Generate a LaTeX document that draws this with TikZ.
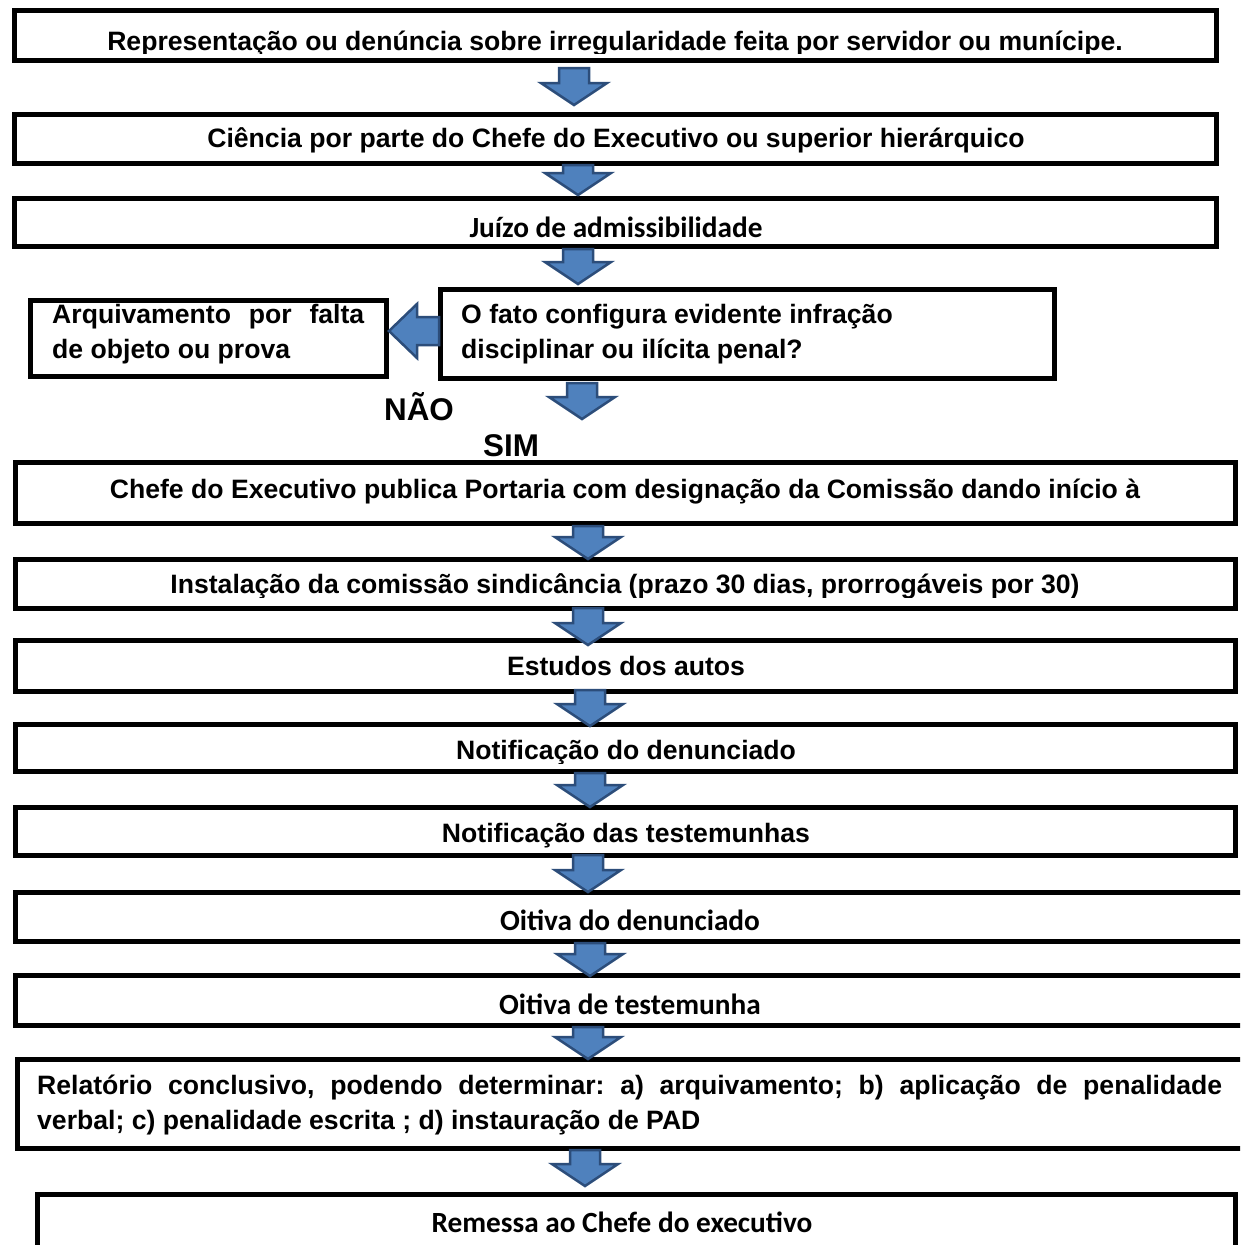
\documentclass[tikz,border=0pt]{standalone}
\usepackage{fontspec}
\setmainfont{Liberation Sans}
\newfontfamily\calib{Carlito}
\frenchspacing
\definecolor{arrfill}{RGB}{79,129,189}
\definecolor{arrline}{RGB}{44,77,122}
\newcommand\darr[4]{% name, x, ytop, ytip
  \coordinate (#1) at (#2,#3);
  \draw[blk] ({#2-15},#3) -- ({#2+15},#3) -- ({#2+15},{#4-22}) -- ({#2+33},{#4-22})
    -- (#2,#4) -- ({#2-33},{#4-22}) -- ({#2-15},{#4-22}) -- cycle;}
\begin{document}
\begin{tikzpicture}[x=1pt,y=-1pt,
  box/.style={draw=black, line width=5pt, fill=white, inner sep=0pt},
  ar/.style={font=\bfseries\fontsize{26.6}{35}\selectfont, inner sep=0pt, anchor=base},
  cb/.style={font=\calib\bfseries\fontsize{29.3}{34}\selectfont, inner sep=0pt, anchor=base},
  big/.style={font=\bfseries\fontsize{31.4}{36}\selectfont, inner sep=0pt, anchor=base},
  blk/.style={fill=arrfill, draw=arrline, line width=2.5pt, line join=miter}]
\clip (0,0) rectangle (1240,1245);
\fill[white] (0,0) rectangle (1240,1245);
% boxes
\node[box, minimum width=1202pt, minimum height=50pt] (b1) at (615,35) {};
\node[box, minimum width=1202pt, minimum height=49pt] (b2) at (615,138.5) {};
\node[box, minimum width=1202pt, minimum height=48pt] (b3) at (615,222) {};
\node[box, minimum width=356pt, minimum height=76pt] (b4) at (208,338) {};
\node[box, minimum width=614pt, minimum height=89pt] (b5) at (747,333.5) {};
\node[box, minimum width=1220pt, minimum height=61pt] (b6) at (625,492.5) {};
\node[box, minimum width=1220pt, minimum height=49pt] (b7) at (625,583.5) {};
\node[box, minimum width=1220pt, minimum height=51pt] (b8) at (625,665.5) {};
\node[box, minimum width=1220pt, minimum height=47pt] (b9) at (625,747.5) {};
\node[box, minimum width=1220pt, minimum height=48pt] (b10) at (625,831) {};
\node[box, minimum width=1240pt, minimum height=49pt] (b11) at (635,916.5) {};
\node[box, minimum width=1240pt, minimum height=50pt] (b12) at (635,1000) {};
\node[box, minimum width=1240pt, minimum height=89pt] (b13) at (637,1103.5) {};
\node[box, minimum width=1198pt, minimum height=66pt] (b14) at (636,1227) {};
% texts
\begin{scope}
  \clip (0,0) rectangle (1240,53);
  \node[ar] (t1) at (615,50) {Representação ou denúncia sobre irregularidade feita por servidor ou munícipe.};
\end{scope}
\node[ar] (t2) at (616,147) {Ciência por parte do Chefe do Executivo ou superior hierárquico};
\node[cb] (t3) at (616,237) {Juízo de admissibilidade};
\node[ar, anchor=north west, align=left] (t4) at (52,303.6) {\makebox[312pt][s]{Arquivamento por falta}\\de objeto ou prova};
\node[ar, anchor=north west, align=left] (t5) at (461,303.6) {O fato configura evidente infração\\disciplinar ou ilícita penal?};
\node[big] (nao) at (419,420) {NÃO};
\node[big] (sim) at (511,456) {SIM};
\node[ar] (t6) at (625,498) {Chefe do Executivo publica Portaria com designação da Comissão dando início à};
\begin{scope}
  \clip (0,560) rectangle (1240,597);
  \node[ar] (t7) at (625,593) {Instalação da comissão sindicância (prazo 30 dias, prorrogáveis por 30)};
\end{scope}
\node[ar] (t8) at (626,675) {Estudos dos autos};
\begin{scope}
  \clip (0,725) rectangle (1240,763);
  \node[ar] (t9) at (626,759) {Notificação do denunciado};
\end{scope}
\node[ar] (t10) at (626,842) {Notificação das testemunhas};
\node[cb] (t11) at (630,930) {Oitiva do denunciado};
\node[cb] (t12) at (630,1014) {Oitiva de testemunha};
\node[ar, anchor=north west, align=left] (t13) at (37,1074.6) {\makebox[1185pt][s]{Relatório conclusivo, podendo determinar: a) arquivamento; b) aplicação de penalidade}\\verbal; c) penalidade escrita ; d) instauração de PAD};
\node[cb] (t14) at (622,1232) {Remessa ao Chefe do executivo};
% block arrows
\darr{a1}{574}{68}{105}
\darr{a2}{578}{165}{195}
\darr{a3}{578}{249}{284}
\darr{a4}{582}{383}{419}
\darr{a5}{588}{526}{559}
\darr{a6}{588}{608}{645}
\darr{a7}{590}{690}{726}
\darr{a8}{590}{773}{807}
\darr{a9}{588}{855}{892}
\darr{a10}{590}{943}{976}
\darr{a11}{588}{1027}{1059}
\darr{a12}{585}{1150}{1186}
% left arrow from b5 to b4
\coordinate (la) at (b5.west);
\draw[blk] (439,317) -- (417,317) -- (417,304) -- (389,331) -- (417,358) -- (417,345) -- (439,345) -- cycle;
\end{tikzpicture}
\end{document}
